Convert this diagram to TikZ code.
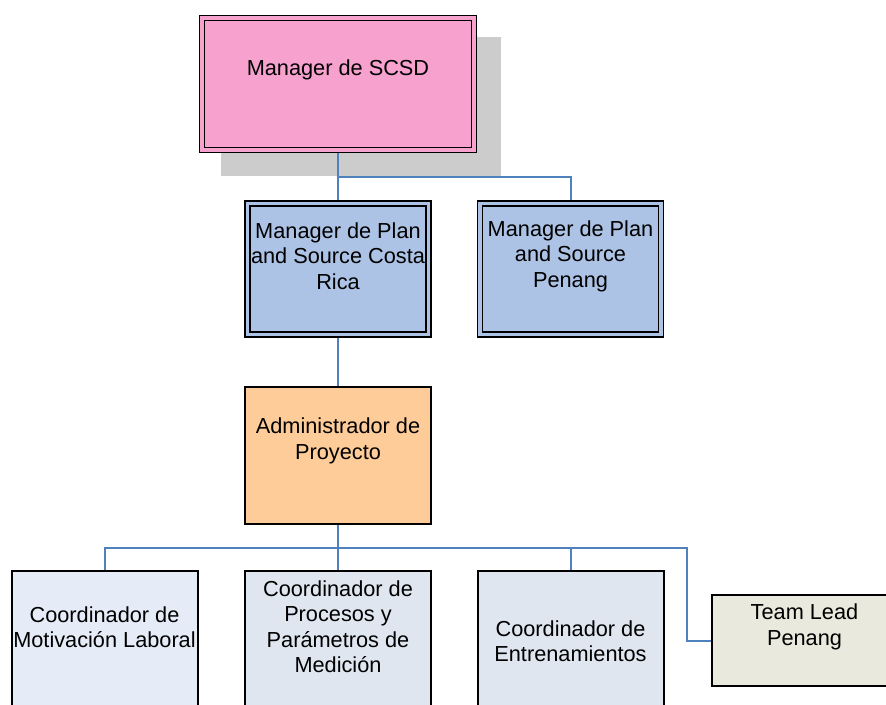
\documentclass[tikz,border=0pt]{standalone}
\usepackage{fontspec}
\setmainfont{Liberation Sans}
\usetikzlibrary{calc,backgrounds}

\definecolor{pinkfill}{HTML}{F7A2CE}
\definecolor{mgrblue}{HTML}{ADC3E5}
\definecolor{adminfill}{HTML}{FECC99}
\definecolor{coordA}{HTML}{E5ECF7}
\definecolor{coordB}{HTML}{E0E6F0}
\definecolor{leadfill}{HTML}{E9E9DD}
\definecolor{shadowgray}{HTML}{CCCCCC}
\definecolor{linkblue}{HTML}{4F81BD}

\tikzset{
  box/.style={rectangle, draw=black, line width=1.5pt, inner sep=0pt, outer sep=0pt},
  dblbox/.style={rectangle, draw=black, line width=1.35pt, double distance=2.3pt, inner sep=0pt, outer sep=0pt},
  lbl/.style={align=center, inner sep=0pt, font=\fontsize{16.3}{19.1}\selectfont},
  link/.style={draw=linkblue, line width=1.5pt},
}

\begin{document}
\begin{tikzpicture}[x=0.75pt, y=-0.75pt]
\useasboundingbox (0,0) rectangle (886,705);
\clip (0,0) rectangle (886,705);

% --- boxes ---
\node[dblbox, double=pinkfill, fill=pinkfill, minimum width=272*0.75pt, minimum height=132*0.75pt] (scsd) at (338,84) {};
\node[dblbox, double=mgrblue, fill=mgrblue, minimum width=181*0.75pt, minimum height=131.4*0.75pt] (cr) at (338,269) {};
\node[dblbox, double=mgrblue, fill=mgrblue, minimum width=181*0.75pt, minimum height=131.4*0.75pt] (pen) at (570.5,269) {};
\node[box, fill=adminfill, minimum width=185.5*0.75pt, minimum height=137*0.75pt] (admin) at (338,455.5) {};
\node[box, fill=coordA, minimum width=186*0.75pt, minimum height=137*0.75pt] (mot) at (104.5,640) {};
\node[box, fill=coordB, minimum width=186*0.75pt, minimum height=137*0.75pt] (proc) at (338,640) {};
\node[box, fill=coordB, minimum width=186*0.75pt, minimum height=137*0.75pt] (ent) at (570.5,640) {};
% the Team Lead box runs on past the right edge of the page,
% so only its top, left and bottom sides are stroked
\node[box, draw=none, fill=leadfill, minimum width=200*0.75pt, minimum height=91.5*0.75pt] (lead) at (811.5,640.75) {};
\draw[line width=1.5pt] (lead.north east) -- (lead.north west) -- (lead.south west) -- (lead.south east);

% --- labels ---
\node[lbl] (scsdT) at ($(scsd.center)+(0,-14)$) {Manager de SCSD};
\node[lbl] (crT) at ($(cr.center)+(0,-13)$) {Manager de Plan\\and Source Costa\\Rica};
\node[lbl] (penT) at ($(pen.center)+(0,-13)$) {Manager de Plan\\and Source\\Penang};
\node[lbl] (adminT) at ($(admin.center)+(0,-14.5)$) {Administrador de\\Proyecto};
\node[lbl] (motT) at ($(mot.center)+(0,-13)$) {Coordinador de\\Motivación Laboral};
\node[lbl] (procT) at ($(proc.center)+(0,-13.5)$) {Coordinador de\\Procesos y\\Parámetros de\\Medición};
\node[lbl] (entT) at ($(ent.center)+(0,1)$) {Coordinador de\\Entrenamientos};
\node[lbl] (leadT) at ($(lead.center)+(-7,-14)$) {Team Lead\\Penang};

% --- shadow and connectors underneath the boxes ---
\begin{pgfonlayer}{background}
  \fill[shadowgray] ($(scsd.north west)+(19,19)$) rectangle ($(scsd.south east)+(27,26)$);
  \coordinate (j1) at (338,177);
  \coordinate (j2) at (338,548);
  \coordinate (j3) at (687,548);
  \draw[link] (scsd.south) -- (cr.north);
  \draw[link] (j1) -| (pen.north);
  \draw[link] (cr.south) -- (admin.north);
  \draw[link] (admin.south) -- (proc.north);
  \draw[link] (j2) -| (mot.north);
  \draw[link] (j2) -| (ent.north);
  \draw[link] (j2) -- (j3) |- (lead.west);
\end{pgfonlayer}
\end{tikzpicture}
\end{document}
